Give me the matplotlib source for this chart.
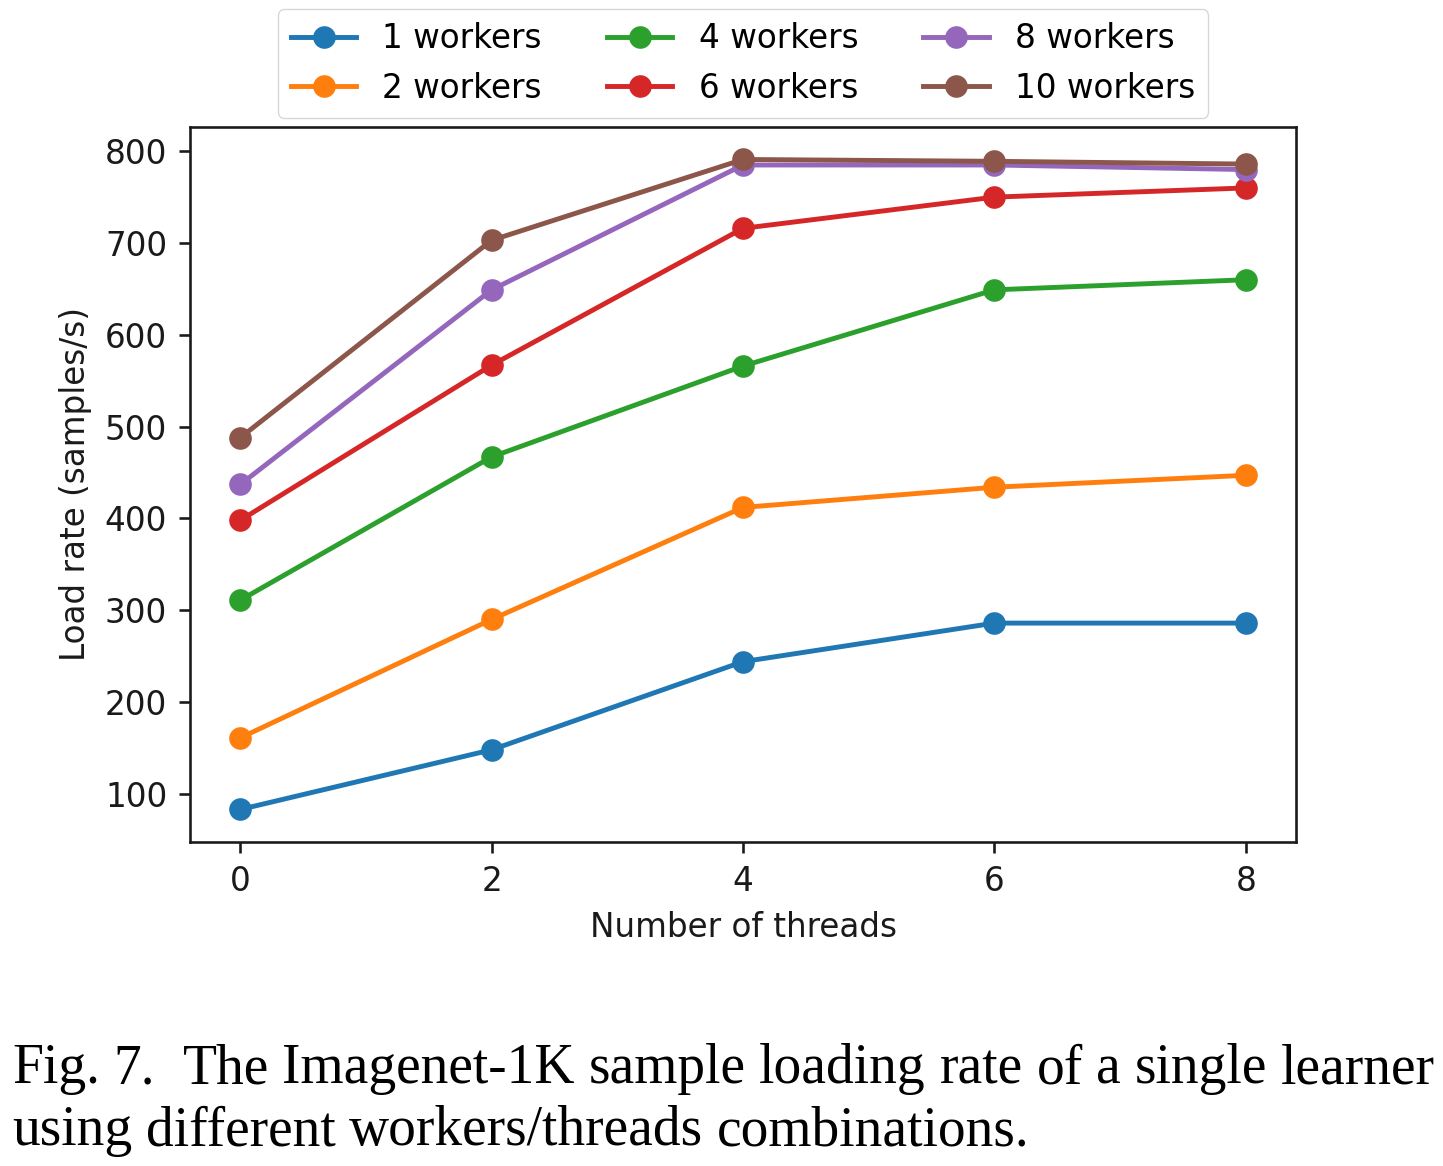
import numpy as np
import matplotlib
matplotlib.use('Agg')
from matplotlib import pyplot as plt

threads = [0, 2, 4, 6, 8]
labels = ['1 workers', '2 workers', '4 workers', '6 workers', '8 workers', '10 workers']
w1 = [83, 148, 244, 286, 286]
w2 = [161, 290, 412, 434, 447]
w4 = [311, 467, 566, 649, 660]
w6 = [398, 567, 716, 750, 760]
w8 = [437, 649, 785, 785, 780]
w10 = [488, 703, 791, 789, 786]
caption1 = 'Fig. 7.  The Imagenet-1K sample loading rate of a single learner'
caption2 = 'using different workers/threads combinations.'

plt.rcParams['font.family'] = ['DejaVu Sans']
k = 2.35  # scale of the embedded default-style plot
fs = 10 * k
ink = '#1a1a1a'

fig = plt.figure(figsize=(14.43, 11.66), dpi=100)
ax = fig.add_axes([0.1317, 0.2779, 0.7664, 0.6132])

for ys, lab in zip([w1, w2, w4, w6, w8, w10], labels):
    ax.plot(threads, ys, marker='o', markersize=6.5 * k, linewidth=1.5 * k, label=lab)

ax.set_xticks([0, 2, 4, 6, 8])
ax.set_yticks([100, 200, 300, 400, 500, 600, 700, 800])
ax.tick_params(labelsize=fs, length=3.5 * k, width=0.8 * k, pad=3.5 * k,
               colors=ink)
for s in ax.spines.values():
    s.set_linewidth(0.8 * k)
    s.set_color(ink)
ax.set_xlabel('Number of threads', fontsize=fs, color=ink, labelpad=4 * k)
ax.set_ylabel('Load rate (samples/s)', fontsize=fs, color=ink, labelpad=4 * k)

leg = ax.legend(loc='lower center', bbox_to_anchor=(0.5, 1.0), ncol=3, fontsize=fs,
                borderaxespad=0.28)
leg.get_frame().set_linewidth(0.8 * k / 2)

# caption, first line justified between the margins
fig.canvas.draw()
rend = fig.canvas.get_renderer()
left, right = 12, 1435
cap_fs = 40


def word_widths(words):
    ws = []
    for w in words:
        t = fig.text(0, 0, w, family='Liberation Serif', fontsize=cap_fs)
        ws.append(t.get_window_extent(rend).width)
        t.remove()
    return ws


words1 = caption1.replace('  ', ' ').split(' ')
ww1 = word_widths(words1)
gap = (right - left - sum(ww1)) / (len(words1) - 1 + 1)  # one double space
x = left
for i, (w, wd) in enumerate(zip(words1, ww1)):
    fig.text(x / 1443, 1 - 1083 / 1166, w, family='Liberation Serif', fontsize=cap_fs)
    x += wd + gap * (2 if i == 1 else 1)

words2 = caption2.split(' ')
ww2 = word_widths(words2)
x = left
for w, wd in zip(words2, ww2):
    fig.text(x / 1443, 1 - 1145 / 1166, w, family='Liberation Serif', fontsize=cap_fs)
    x += wd + gap

fig.savefig('out.png', dpi=100)
